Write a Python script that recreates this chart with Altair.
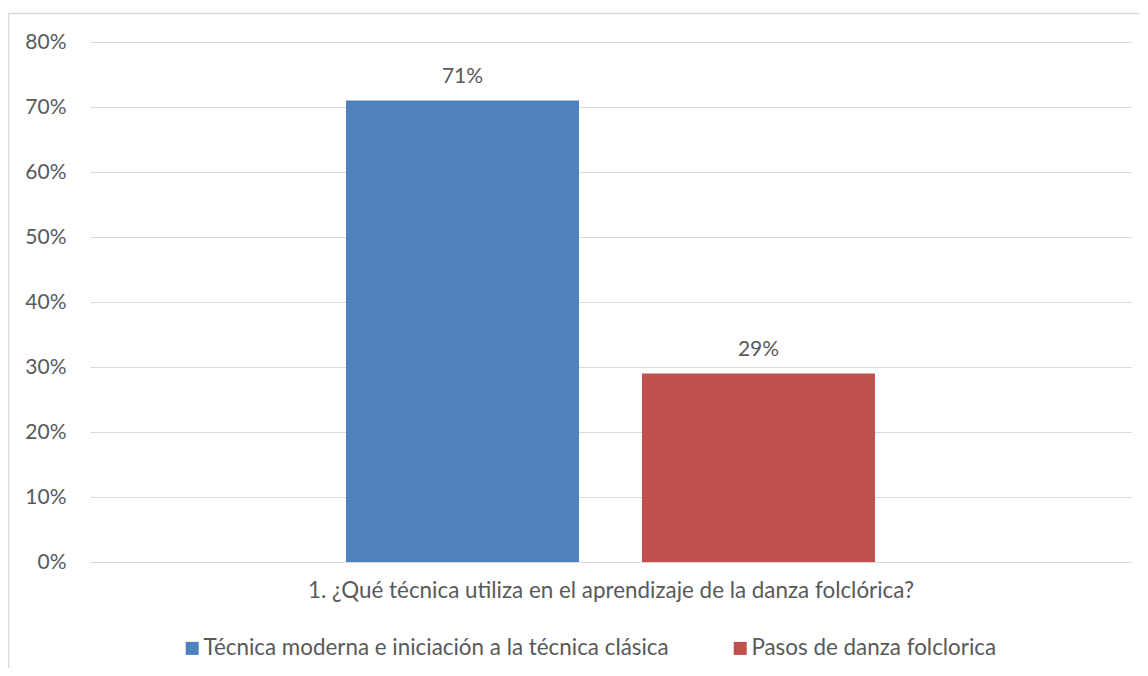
import altair as alt
import pandas as pd

category = "1. ¿Qué técnica utiliza en el aprendizaje de la danza folclórica?"
series = ["Técnica moderna e iniciación a la técnica clásica", "Pasos de danza folclorica"]
values = [0.71, 0.29]
colors = ["#4F81BD", "#C0504D"]
y_ticks = [0, 0.1, 0.2, 0.3, 0.4, 0.5, 0.6, 0.7, 0.8]

FONT = "Lato"
FS_NUM = 21
FS_TXT = 22.4
TXT = "#595959"
GRID = "#D9D9D9"

df = pd.DataFrame({"serie": series, "valor": values, "categoria": [category] * len(series)})

x_enc = alt.X(
    "serie:N",
    sort=series,
    scale=alt.Scale(paddingInner=0.2128, paddingOuter=0.865),
    axis=alt.Axis(
        labels=False, ticks=False, grid=False, title=category, titleFont=FONT,
        titleFontSize=FS_TXT, titleFontWeight="normal", titleColor=TXT,
        titlePadding=17, domainColor=GRID, domainWidth=1,
    ),
)
y_enc = alt.Y(
    "valor:Q",
    scale=alt.Scale(domain=[0, 0.8], nice=False),
    axis=alt.Axis(
        values=y_ticks, format=".0%", title=None, domain=False, ticks=False,
        labelFont=FONT, labelFontSize=FS_NUM, labelColor=TXT, labelPadding=24,
        gridColor=GRID, gridWidth=1,
    ),
)

bars = alt.Chart(df).mark_bar().encode(
    x=x_enc,
    y=y_enc,
    color=alt.Color(
        "serie:N",
        sort=series,
        scale=alt.Scale(domain=series, range=colors),
        legend=alt.Legend(
            orient="none", direction="horizontal", legendX=91, legendY=595,
            title=None, symbolType="square", symbolSize=169, symbolStrokeWidth=0,
            labelFont=FONT, labelFontSize=FS_TXT, labelColor=TXT, labelOffset=0,
            columnPadding=60, labelLimit=800,
        ),
    ),
)

labels = alt.Chart(df).mark_text(
    baseline="bottom", dy=-14, font=FONT, fontSize=FS_NUM, color=TXT
).encode(
    x=alt.X("serie:N", sort=series),
    y="valor:Q",
    text=alt.Text("valor:Q", format=".0%"),
)

frame_df = pd.DataFrame({"f": [0]})
frame_top = alt.Chart(frame_df).mark_rule(color=GRID, strokeWidth=1.5).encode(
    x=alt.value(-81.5), x2=alt.value(1070), y=alt.value(-28.5)
)
frame_left = alt.Chart(frame_df).mark_rule(color=GRID, strokeWidth=1.5).encode(
    x=alt.value(-81.5), y=alt.value(-28.5), y2=alt.value(700)
)

chart = alt.layer(frame_top, frame_left, bars, labels).properties(
    width=1041, height=520,
    background="white",
    autosize=alt.AutoSizeParams(type="none"),
    padding={"left": 82, "top": 34, "right": 8, "bottom": 106},
).configure_view(strokeWidth=0, stroke="transparent")

chart.save("out.html", embed_options={"renderer": "svg", "actions": False})
